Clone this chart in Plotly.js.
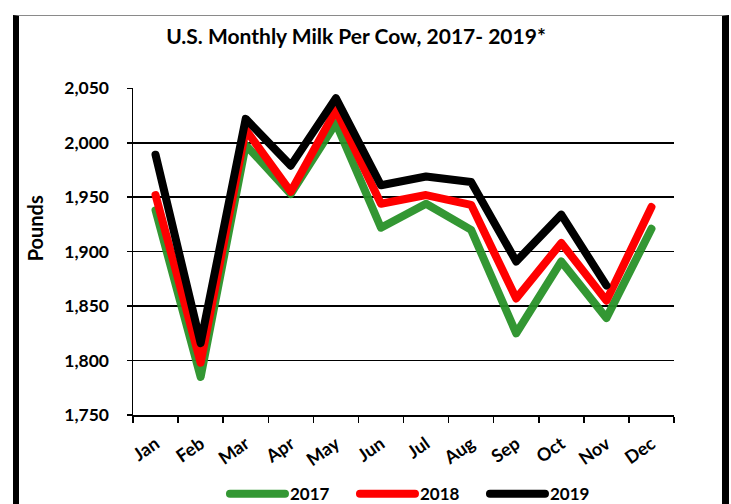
<!DOCTYPE html>
<html>
<head>
<meta charset="utf-8">
<script src="https://cdn.plot.ly/plotly-3.0.1.min.js"></script>
<style>
  html, body { margin: 0; padding: 0; background: #fff; }
  #wrap { position: relative; width: 731px; height: 504px; overflow: hidden; background: #fff; }
  #frame { position: absolute; left: 13px; top: 15px; width: 703px; height: 520px;
           border-left: 6px solid #000; border-right: 7px solid #000; border-top: 1px solid #8a8a8a; }
  #chart { position: absolute; left: 0; top: 0; width: 731px; height: 504px; }
  .scatterlayer path.js-line, .legend path.js-line { stroke-linecap: round; stroke-linejoin: round; }
</style>
</head>
<body>
<div id="wrap">
  <div id="frame"></div>
  <div id="chart"></div>
</div>
<script>
const months = ["Jan","Feb","Mar","Apr","May","Jun","Jul","Aug","Sep","Oct","Nov","Dec"];
const milk2017 = [1938, 1785, 1998, 1953, 2018, 1922, 1944, 1920, 1825, 1891, 1839, 1921];
const milk2018 = [1952, 1798, 2012, 1955, 2030, 1944, 1952, 1943, 1857, 1908, 1855, 1941];
const milk2019 = [1989, 1816, 2022, 1979, 2041, 1961, 1969, 1964, 1891, 1934, 1869, null];
const yTicks = [1750, 1800, 1850, 1900, 1950, 2000, 2050];
const yTickText = ["1,750","1,800","1,850","1,900","1,950","2,000","2,050"];

const FONT = "Lato, 'Open Sans', sans-serif";

const traces = [
  {x: months, y: milk2017, name: "2017", type: "scatter", mode: "lines",
   line: {color: "rgba(40,145,40,0.95)", width: 8}},
  {x: months, y: milk2018, name: "2018", type: "scatter", mode: "lines",
   line: {color: "#ff0000", width: 8}},
  {x: months, y: milk2019, name: "2019", type: "scatter", mode: "lines",
   line: {color: "#000000", width: 8}}
];

const layout = {
  width: 731, height: 504,
  paper_bgcolor: "rgba(0,0,0,0)",
  plot_bgcolor: "rgba(0,0,0,0)",
  margin: {l: 133, r: 57, t: 88, b: 89, autoexpand: false},
  font: {family: FONT, color: "#000", size: 15, weight: "bold"},
  title: {
    text: "<b>U.S. Monthly Milk Per Cow, 2017- 2019*</b>",
    font: {family: FONT, size: 21, color: "#000"},
    xref: "container", x: 0.487, xanchor: "center",
    yref: "container", y: 0.927, yanchor: "middle"
  },
  xaxis: {
    type: "category",
    range: [-0.5, 11.5],
    showline: true, linecolor: "#000", linewidth: 1.5,
    ticks: "outside", tickson: "boundaries", ticklen: 6, tickcolor: "#000", tickwidth: 1.5,
    ticklabelstandoff: 10,
    showgrid: false, zeroline: false,
    tickangle: -35,
    tickfont: {family: FONT, size: 18, color: "#000", weight: "bold"},
    fixedrange: true
  },
  yaxis: {
    range: [1750, 2050.3],
    tickvals: yTicks, ticktext: yTickText,
    showline: true, linecolor: "#000", linewidth: 1.5,
    ticks: "outside", ticklen: 5, tickcolor: "#000", tickwidth: 1.5,
    ticklabelstandoff: 14,
    showgrid: true, gridcolor: "#000", gridwidth: 1.5,
    zeroline: false,
    tickfont: {family: FONT, size: 17.5, color: "#000", weight: "bold"},
    fixedrange: true
  },
  annotations: [{
    text: "<b>Pounds</b>", textangle: -90,
    xref: "paper", yref: "paper", x: -0.181, y: 0.571,
    xanchor: "center", yanchor: "middle", showarrow: false,
    font: {family: FONT, size: 20, color: "#000"}
  }],
  showlegend: true,
  legend: {
    orientation: "h",
    x: 0.17, xanchor: "left",
    y: -0.242, yanchor: "middle",
    itemwidth: 55,
    entrywidth: 60,
    font: {family: FONT, size: 17, color: "#000", weight: "bold"},
    bgcolor: "rgba(0,0,0,0)"
  }
};

Plotly.newPlot("chart", traces, layout, {displayModeBar: false, staticPlot: true});
</script>
</body>
</html>
